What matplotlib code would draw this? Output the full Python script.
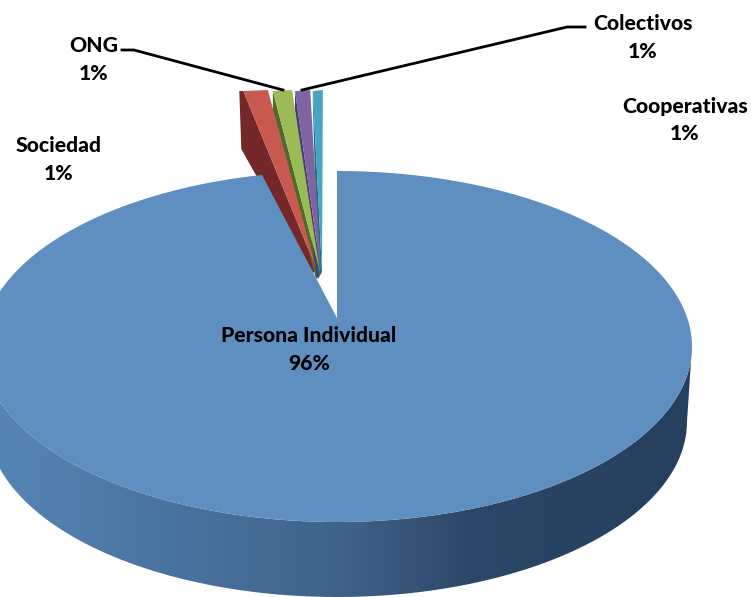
import numpy as np
import matplotlib
matplotlib.use("Agg")
import matplotlib.pyplot as plt
from matplotlib.colors import LinearSegmentedColormap
from matplotlib.patches import Polygon

etiquetas = ["Persona Individual", "Sociedad", "ONG", "Colectivos", "Cooperativas"]
valores = [96, 1, 1, 1, 1]

# geometria da pizza em pixels
cx, cy = 337, 346.5
rx, ry = 355, 175.5
prof = 75
topo_y = 91
apice_main = (337, 318)
canto_main = np.radians(2.2)  # a borda esquerda da fatia grande avanca um pouco

cores = ["#5f8ec1", "#c8594f", "#9bbb59", "#8064a2", "#45a5c2"]
escuras = ["#2a4565", "#74282a", "#4f6b2c", "#4a3a70", "#1f6a80"]
# ajustes das fatias destacadas: desvio em x, largura relativa, apice, altura do lado
desvio = [-4, 1, -1, -8]
largura = [1.1, 0.86, 0.68, 0.45]
apice_x = [316, 320, 321, 322]
apice_y = [268, 272, 272, 272]
lado = [58, 26, 20, 12]
recuo = [4, 0, 0, 0]

plt.rcParams["font.family"] = "Lato"
fig = plt.figure(figsize=(7.52, 5.97), dpi=100)
ax = fig.add_axes([0, 0, 1, 1])
ax.set_xlim(0, 752)
ax.set_ylim(597, 0)
ax.axis("off")


def elipse(ang):
    return cx + rx * np.sin(ang), cy - ry * np.cos(ang)


# parede lateral com gradiente
meio = np.linspace(np.pi / 2, 3 * np.pi / 2, 200)
xm, ym = elipse(meio)
xi = cx + (rx - 5) * np.sin(meio)
yi = cy + prof - ry * np.cos(meio)
parede = Polygon(np.column_stack([np.r_[xm, xi[::-1]], np.r_[ym, yi[::-1]]]),
                 closed=True, fc="none", ec="none", transform=ax.transData)
ax.add_patch(parede)
cmap = LinearSegmentedColormap.from_list("lado", [(0, "#5584b5"), (0.3, "#47709b"),
                                                  (0.5, "#3f6287"), (0.68, "#2c4767"),
                                                  (1, "#253f5e")])
g = np.linspace(0, 1, 256).reshape(1, -1)
im = ax.imshow(g, extent=(0, 692, 597, 340), cmap=cmap, aspect="auto", zorder=1)
im.set_clip_path(parede)
ax.set_xlim(0, 752)
ax.set_ylim(597, 0)

# fatias pequenas destacadas
total = sum(valores)
a0 = 2 * np.pi * (1 - sum(valores[1:]) / total)
for i, v in enumerate(valores[1:]):
    a1 = a0 + 2 * np.pi * v / total
    am = (a0 + a1) / 2
    xc = cx + rx * np.sin(am) + desvio[i]
    meia = rx * (a1 - a0) / 2 * largura[i]
    esq = (xc - meia, topo_y)
    dir_ = (xc + meia, topo_y - 1)
    ap = (apice_x[i], apice_y[i])
    ax.add_patch(Polygon([(esq[0] - recuo[i], esq[1]), esq, ap, (ap[0] - 4, ap[1] + 7),
                          (esq[0] - recuo[i] / 2, esq[1] + lado[i])],
                         closed=True, fc=escuras[i + 1], ec="none", zorder=2))
    ax.add_patch(Polygon([esq, dir_, ap], closed=True, fc=cores[i + 1], ec="none", zorder=3))
    a0 = a1

# fatia principal
fim = 2 * np.pi * valores[0] / total + canto_main
a = np.linspace(0, fim, 400)
xa, ya = elipse(a)
ax.add_patch(Polygon(np.column_stack([np.r_[xa, apice_main[0]], np.r_[ya, apice_main[1]]]),
                     closed=True, fc=cores[0], ec="none", zorder=4))

# linhas guia
ax.plot([122, 134, 283], [50, 50, 90], color="black", lw=2, zorder=5)
ax.plot([302, 567, 585], [90, 27, 27], color="black", lw=2, zorder=5)

# rotulos
pos_txt = [(309, 335, 363), (59, 146, 174), (94, 45, 73), (643, 24, 51), (685, 106, 133)]
for nome, v, (x, y1, y2) in zip(etiquetas, valores, pos_txt):
    ax.text(x, y1, nome, ha="center", va="center", fontsize=15.2, fontweight="black", color="black", zorder=6)
    ax.text(x, y2, "%d%%" % v, ha="center", va="center", fontsize=15.2, fontweight="black", color="black", zorder=6)

fig.savefig("out.png", dpi=100)
